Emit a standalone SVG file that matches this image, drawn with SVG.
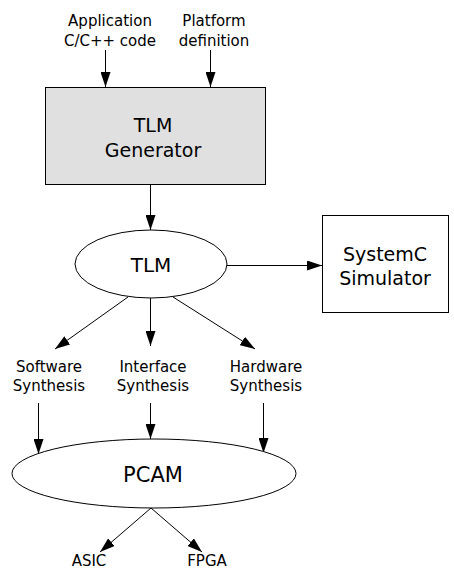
<svg xmlns="http://www.w3.org/2000/svg" width="454" height="571" viewBox="0 0 454 571">
<style>
text{font-family:"DejaVu Sans","Liberation Sans",sans-serif;fill:#000;text-anchor:middle}
.s{font-size:15px}
.b{font-size:19px}
.e{font-size:20px}
.shape{stroke:#000;stroke-width:1}
.c{stroke:#000;stroke-width:1;fill:none;marker-end:url(#ah)}
</style>
<defs>
<marker id="ah" markerUnits="userSpaceOnUse" markerWidth="15" markerHeight="10" refX="15" refY="5" orient="auto">
<path d="M0,0 L15,5 L0,10 z" fill="#000"/>
</marker>
</defs>
<rect width="454" height="571" fill="#fff"/>
<g id="connectors">
<line class="c" x1="105.5" y1="50" x2="105.5" y2="87"/>
<line class="c" x1="210.5" y1="50" x2="210.5" y2="87"/>
<line class="c" x1="150.5" y1="185" x2="150.5" y2="230"/>
<line class="c" x1="227" y1="265.5" x2="322" y2="265.5"/>
<line class="c" x1="128" y1="297" x2="55" y2="349"/>
<line class="c" x1="150.5" y1="298" x2="150.5" y2="346"/>
<line class="c" x1="173" y1="297" x2="255" y2="349"/>
<line class="c" x1="38.5" y1="403" x2="38.5" y2="454"/>
<line class="c" x1="150.5" y1="403" x2="150.5" y2="439"/>
<line class="c" x1="263.5" y1="403" x2="263.5" y2="453"/>
<line class="c" x1="151" y1="508" x2="100" y2="552"/>
<line class="c" x1="151" y1="508" x2="202" y2="552"/>
</g>
<g id="app">
<text class="s" x="110" y="26">Application</text>
<text class="s" x="110" y="46">C/C++ code</text>
</g>
<g id="platform">
<text class="s" x="214" y="26">Platform</text>
<text class="s" x="214" y="46">definition</text>
</g>
<g id="generator">
<rect class="shape" x="45.5" y="87.5" width="220" height="97" fill="#e0e0e0"/>
<text class="b" x="153" y="132">TLM</text>
<text class="b" x="153" y="157">Generator</text>
</g>
<g id="tlm">
<ellipse class="shape" cx="151" cy="264" rx="76" ry="34" fill="#fff"/>
<text class="e" x="151" y="272">TLM</text>
</g>
<g id="simulator">
<rect class="shape" x="322.5" y="215.5" width="126" height="97" fill="#fff"/>
<text class="b" x="385" y="261">SystemC</text>
<text class="b" x="385" y="285">Simulator</text>
</g>
<g id="sw">
<text class="s" x="49" y="372">Software</text>
<text class="s" x="49" y="391">Synthesis</text>
</g>
<g id="if">
<text class="s" x="153" y="372">Interface</text>
<text class="s" x="153" y="391">Synthesis</text>
</g>
<g id="hw">
<text class="s" x="266" y="372">Hardware</text>
<text class="s" x="266" y="391">Synthesis</text>
</g>
<g id="pcam">
<ellipse class="shape" cx="154" cy="473.5" rx="142" ry="34.5" fill="#fff"/>
<text class="e" x="153" y="482" style="font-size:21px">PCAM</text>
</g>
<g id="asic">
<text class="s" x="89" y="566">ASIC</text>
</g>
<g id="fpga">
<text class="s" x="207" y="566">FPGA</text>
</g>
</svg>
